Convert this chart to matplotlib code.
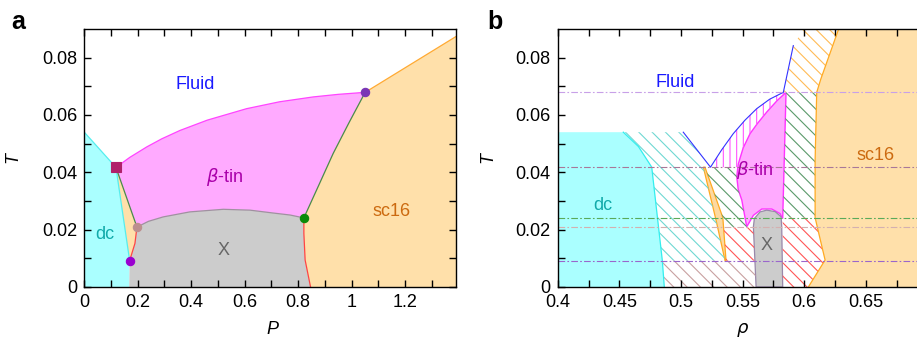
import matplotlib.pyplot as plt

# rendered at 80 dpi so that the hatch spacing matches; k scales point sizes back
DPI = 80
k = 100 / DPI

plt.rcParams['font.family'] = ['Liberation Sans', 'DejaVu Sans']
plt.rcParams['font.size'] = 13 * k
plt.rcParams['hatch.linewidth'] = 1.0

# colours of the phases
c_dc, c_bt, c_sc, c_x = '#aaffff', '#ffaaff', '#ffe0aa', '#cccccc'

# ---------------- panel a : T-P plane ----------------
# triple points (P, T)
sq_pt = (0.1185, 0.0417)      # dc / beta-tin / fluid
top_pt = (1.0505, 0.0679)     # beta-tin / sc16 / fluid
green_pt = (0.8213, 0.0241)   # beta-tin / X / sc16
brown_pt = (0.197, 0.0209)    # beta-tin / X / sc16
low_pt = (0.1697, 0.0092)     # dc / X / sc16

# coexistence lines
dcfl_P = [0.0, 0.1185]
dcfl_T = [0.054, 0.0417]
btfl_P = [0.1185, 0.17, 0.2344, 0.29, 0.3578, 0.46, 0.607, 0.73, 0.856, 0.95, 1.0505]
btfl_T = [0.0417, 0.0452, 0.0489, 0.0517, 0.0546, 0.0582, 0.0622, 0.0646, 0.0663, 0.0672, 0.0679]
scfl_P = [1.0505, 1.45]
scfl_T = [0.0679, 0.0908]
btsc_P = [1.0505, 0.99, 0.931, 0.877, 0.8213]
btsc_T = [0.0679, 0.0573, 0.0466, 0.0355, 0.0241]
btx_P = [0.197, 0.24, 0.2953, 0.395, 0.52, 0.62, 0.7066, 0.77, 0.8213]
btx_T = [0.0209, 0.0229, 0.02445, 0.0262, 0.0271, 0.0268, 0.0258, 0.0251, 0.0241]
xsc_P = [0.8213, 0.8213, 0.826, 0.8463]
xsc_T = [0.0241, 0.0187, 0.0094, 0.0]
xsc2_P = [0.197, 0.1895, 0.1697]
xsc2_T = [0.0209, 0.0152, 0.0092]

# ---------------- panel b : T-rho plane ----------------
dc_r = [0.4532, 0.4655, 0.4763, 0.4849, 0.4865]
dc_t = [0.054, 0.049, 0.0418, 0.0092, 0.0]
fl_r = [0.5019, 0.524, 0.533, 0.5425, 0.552, 0.5615, 0.572, 0.5831, 0.5912]
fl_t = [0.054, 0.0418, 0.0478, 0.0535, 0.0582, 0.0622, 0.0655, 0.0679, 0.0842]
sliv_l_r = [0.5182, 0.5285, 0.5358]
sliv_l_t = [0.0418, 0.0233, 0.0092]
sliv_r_r = [0.5195, 0.534, 0.5366]
sliv_r_t = [0.0418, 0.0242, 0.0092]
bt_left_r = [0.5853, 0.578, 0.5696, 0.562, 0.5561, 0.5505, 0.5466, 0.5462, 0.5453, 0.5465, 0.5494, 0.5534]
bt_left_t = [0.0679, 0.065, 0.061, 0.057, 0.0535, 0.0485, 0.043, 0.0418, 0.0384, 0.034, 0.0303, 0.021]
bt_dome_r = [0.5588, 0.5656, 0.5737, 0.5804, 0.5826]
bt_dome_t = [0.025, 0.0272, 0.0272, 0.0256, 0.0239]
x_r = [0.561, 0.5588, 0.5596, 0.5642, 0.5696, 0.5764, 0.5813, 0.5818, 0.5826]
x_t = [0.0, 0.021, 0.0239, 0.0262, 0.0268, 0.0263, 0.0245, 0.021, 0.0]
sc_r = [0.628, 0.6135, 0.6102, 0.6089, 0.6089, 0.6116, 0.617, 0.6034]
sc_t = [0.09, 0.0725, 0.0679, 0.0442, 0.0242, 0.0192, 0.0094, 0.0]

# triple point temperatures (dash-dot lines)
tp_T = [0.0679, 0.0418, 0.0242, 0.0208, 0.0092]
tp_col = ['#c8a0e8', '#a87898', '#5aaa5a', '#d4b0b0', '#9a66cc']

fig = plt.figure(figsize=(917 / DPI, 341 / DPI), dpi=DPI)
ax1 = fig.add_axes([0.0919, 0.1584, 0.4053, 0.7566])
ax2 = fig.add_axes([0.6082, 0.1584, 0.4031, 0.7566])

lw = 0.9 * k

# ---- panel a fills
ax1.fill([0, 0, sq_pt[0], low_pt[0], 0.168], [0, 0.054, sq_pt[1], low_pt[1], 0],
         color=c_dc, lw=0)
ax1.fill([sq_pt[0]] + xsc2_P, [sq_pt[1]] + xsc2_T, color=c_sc, lw=0)
ax1.fill(btfl_P + btsc_P + btx_P[::-1], btfl_T + btsc_T + btx_T[::-1], color=c_bt, lw=0)
ax1.fill(btx_P + xsc_P + [0.168] + xsc2_P[::-1], btx_T + xsc_T + [0.0] + xsc2_T[::-1],
         color=c_x, lw=0)
ax1.fill(scfl_P + [1.45] + xsc_P[::-1] + btsc_P[::-1],
         scfl_T + [0.0] + xsc_T[::-1] + btsc_T[::-1], color=c_sc, lw=0)

# ---- panel a lines
ax1.plot(dcfl_P, dcfl_T, color='#55eeee', lw=lw)
ax1.plot([sq_pt[0], low_pt[0]], [sq_pt[1], low_pt[1]], color='#55eeee', lw=lw)
ax1.plot(btfl_P, btfl_T, color='#ff44ff', lw=lw)
ax1.plot(scfl_P, scfl_T, color='#ffaa33', lw=lw)
ax1.plot(btsc_P, btsc_T, color='#4a8a4a', lw=lw)
ax1.plot([sq_pt[0], brown_pt[0]], [sq_pt[1], brown_pt[1]], color='#4a8a4a', lw=lw)
ax1.plot(btx_P, btx_T, color='#a090a0', lw=lw)
ax1.plot(xsc_P, xsc_T, color='#ff4444', lw=lw)
ax1.plot(xsc2_P, xsc2_T, color='#ff4444', lw=lw)

# ---- panel a triple points
ax1.plot(*sq_pt, marker='s', ms=7 * k, color='#b0206a', zorder=5)
ax1.plot(*top_pt, marker='o', ms=6 * k, color='#7a35b5', zorder=5)
ax1.plot(*green_pt, marker='o', ms=6 * k, color='#0a8a0a', zorder=5)
ax1.plot(*brown_pt, marker='o', ms=6 * k, color='#bc8f8f', zorder=5)
ax1.plot(*low_pt, marker='o', ms=6 * k, color='#9a00d0', zorder=5)

ax1.text(0.414, 0.0706, 'Fluid', color='#1a1aff', ha='center', va='center')
ax1.text(0.526, 0.0384, r'$\beta$-tin', color='#aa00aa', ha='center', va='center')
ax1.text(1.149, 0.0262, 'sc16', color='#cc6a10', ha='center', va='center')
ax1.text(0.522, 0.0129, 'X', color='#666666', ha='center', va='center')
ax1.text(0.0774, 0.0184, 'dc', color='#11aaaa', ha='center', va='center')

ax1.set_xlim(0, 1.39)
ax1.set_ylim(0, 0.09)
ax1.set_xticks([0, 0.2, 0.4, 0.6, 0.8, 1.0, 1.2])
ax1.set_xticklabels(['0', '0.2', '0.4', '0.6', '0.8', '1', '1.2'])
ax1.set_xticks([0.1, 0.3, 0.5, 0.7, 0.9, 1.1, 1.3], minor=True)

# ---- panel b solid phases
ax2.fill([0.4, 0.4] + dc_r, [0, 0.054] + dc_t, color=c_dc, lw=0)
ax2.plot(dc_r, dc_t, color='#33eeee', lw=lw)
ax2.fill(bt_left_r + bt_dome_r, bt_left_t + bt_dome_t,
         facecolor=c_bt, edgecolor='#ff33ff', lw=1.0 * k)
ax2.fill(x_r, x_t, facecolor=c_x, edgecolor='#9988aa', lw=lw)
ax2.fill(sc_r + [0.71, 0.71], sc_t + [0, 0.09], facecolor=c_sc, edgecolor='none')
ax2.plot(sc_r, sc_t, color='#ffaa22', lw=lw)
ax2.fill(sliv_l_r + sliv_r_r[::-1], sliv_l_t + sliv_r_t[::-1],
         facecolor='#fdd9a0', edgecolor='#ffaa22', lw=lw)

# ---- panel b coexistence regions (hatched)
hatches = [
    (dc_r[:4] + [0.5358, 0.5285, 0.5182, 0.524, 0.5019],
     dc_t[:4] + [0.0092, 0.0233, 0.0418, 0.0418, 0.054], '#6fd8d2', '\\\\'),
    ([0.4849, 0.5598, 0.561, 0.4865], [0.0092, 0.0092, 0.0, 0.0], '#c8a0a0', '\\\\'),
    ([0.5346, 0.5366, 0.5598, 0.5588], [0.0209, 0.0092, 0.0092, 0.0209], '#ff5555', '\\\\'),
    ([0.5195, 0.534, 0.5346] + bt_left_r[7:][::-1],
     [0.0418, 0.0242, 0.0209] + bt_left_t[7:][::-1], '#5a9a6a', '\\\\'),
    (fl_r[1:8] + bt_left_r[:8], fl_t[1:8] + bt_left_t[:8], '#ff55ff', '||'),
    ([0.5826, 0.5853, 0.6102, 0.6089, 0.6089], [0.0242, 0.0679, 0.0679, 0.0442, 0.0242],
     '#5a9a6a', '\\\\'),
    ([0.5826, 0.5826, 0.6089, 0.6116, 0.617, 0.6034], [0.0, 0.0242, 0.0242, 0.0192, 0.0094, 0.0],
     '#ff5555', '\\\\'),
    ([0.5831, 0.5912, 0.5994, 0.628, 0.6135, 0.6102], [0.0679, 0.0842, 0.09, 0.09, 0.0725, 0.0679],
     '#ffbb55', '\\\\'),
]
for r, t, col, h in hatches:
    ax2.fill(r, t, facecolor='none', edgecolor=col, hatch=h, lw=0)

ax2.plot(fl_r, fl_t, color='#3333ff', lw=0.8 * k)

for t, col in zip(tp_T, tp_col):
    ax2.axhline(t, color=col, lw=0.8 * k, linestyle=(0, (6, 2, 1.5, 2)))

ax2.text(0.4952, 0.0712, 'Fluid', color='#1a1aff', ha='center', va='center')
ax2.text(0.437, 0.0285, 'dc', color='#11aaaa', ha='center', va='center')
ax2.text(0.5601, 0.0407, r'$\beta$-tin', color='#aa00aa', ha='center', va='center')
ax2.text(0.5696, 0.0146, 'X', color='#666666', ha='center', va='center')
ax2.text(0.6576, 0.046, 'sc16', color='#cc6a10', ha='center', va='center')

ax2.set_xlim(0.4, 0.7)
ax2.set_ylim(0, 0.09)
ax2.set_xticks([0.4, 0.45, 0.5, 0.55, 0.6, 0.65])
ax2.set_xticklabels(['0.4', '0.45', '0.5', '0.55', '0.6', '0.65'])
ax2.set_xticks([0.425, 0.475, 0.525, 0.575, 0.625, 0.675], minor=True)

# ---- common axis styling
for ax in (ax1, ax2):
    ax.set_yticks([0, 0.02, 0.04, 0.06, 0.08])
    ax.set_yticklabels(['0', '0.02', '0.04', '0.06', '0.08'])
    ax.set_yticks([0.01, 0.03, 0.05, 0.07], minor=True)
    ax.tick_params(which='both', direction='in', top=True, right=True,
                   length=5 * k, width=1.0 * k, pad=5 * k)
    for s in ax.spines.values():
        s.set_linewidth(1.0 * k)
        s.set_zorder(10)
    ax.set_ylabel('T', fontstyle='italic')

ax1.yaxis.set_label_coords(-0.170, 0.5)
ax2.yaxis.set_label_coords(-0.167, 0.5)
ax1.set_xlabel('P', fontstyle='italic')
ax2.set_xlabel(r'$\rho$')
ax1.xaxis.set_label_coords(0.505, -0.13)
ax2.xaxis.set_label_coords(0.501, -0.13)

fig.text(18 / 917, 1 - 22 / 341, 'a', fontsize=18 * k, fontweight='bold', ha='center', va='center')
fig.text(495 / 917, 1 - 22 / 341, 'b', fontsize=18 * k, fontweight='bold', ha='center', va='center')

plt.savefig('out.png', dpi=DPI)
